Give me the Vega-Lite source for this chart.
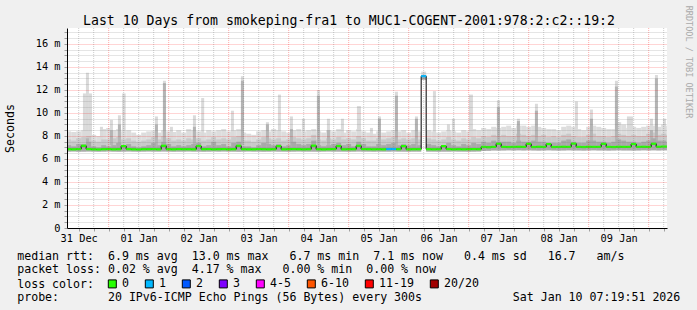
{
  "$schema": "https://vega.github.io/schema/vega-lite/v6.json",
  "width": 600,
  "height": 200,
  "autosize": {"type": "none"},
  "padding": {"left": 67, "top": 28, "right": 30, "bottom": 82},
  "background": "#f0f0f0",
  "config": {
    "view": {"fill": "#ffffff", "stroke": null},
    "font": "DejaVu Sans Mono",
    "axis": {"labelFont": "DejaVu Sans Mono", "titleFont": "DejaVu Sans Mono", "titleFontWeight": "normal", "titleColor": "#000000"}
  },
  "datasets": {
    "smoke": [
      {"h":7,"h2":9,"lo":6.65,"q":7.2,"m":7.7,"hi":8.4,"med":6.85,"loss":"0"},
      {"h":9,"h2":11,"lo":6.66,"q":7.1,"m":7.6,"hi":8.35,"med":6.84,"loss":"0"},
      {"h":11,"h2":13,"lo":6.64,"q":7.3,"m":7.8,"hi":8.4,"med":6.86,"loss":"0"},
      {"h":13,"h2":15,"lo":6.65,"q":7.3,"m":7.9,"hi":8.5,"med":7.15,"loss":"0"},
      {"h":15,"h2":17,"lo":6.66,"q":7.5,"m":8.0,"hi":8.45,"med":6.86,"loss":"0"},
      {"h":17,"h2":19,"lo":6.65,"q":7.1,"m":7.6,"hi":8.1,"med":6.84,"loss":"0"},
      {"h":19,"h2":21,"lo":6.64,"q":7.0,"m":7.5,"hi":8.0,"med":6.83,"loss":"0"},
      {"h":21,"h2":23,"lo":6.65,"q":7.2,"m":7.7,"hi":8.6,"med":6.85,"loss":"0"},
      {"h":23,"h2":25,"lo":6.66,"q":7.1,"m":7.7,"hi":8.7,"med":6.86,"loss":"0"},
      {"h":25,"h2":27,"lo":6.65,"q":7.2,"m":7.8,"hi":8.5,"med":6.84,"loss":"0"},
      {"h":27,"h2":29,"lo":6.64,"q":7.4,"m":7.9,"hi":8.6,"med":6.85,"loss":"0"},
      {"h":29,"h2":31,"lo":6.65,"q":7.2,"m":7.7,"hi":8.4,"med":7.12,"loss":"0"},
      {"h":31,"h2":33,"lo":6.66,"q":7.3,"m":7.8,"hi":8.5,"med":6.86,"loss":"0"},
      {"h":33,"h2":35,"lo":6.65,"q":7.1,"m":7.6,"hi":8.3,"med":6.84,"loss":"0"},
      {"h":35,"h2":37,"lo":6.64,"q":7.0,"m":7.5,"hi":8.1,"med":6.83,"loss":"0"},
      {"h":37,"h2":39,"lo":6.65,"q":7.1,"m":7.6,"hi":8.3,"med":6.85,"loss":"0"},
      {"h":39,"h2":41,"lo":6.66,"q":7.2,"m":7.7,"hi":8.4,"med":6.85,"loss":"0"},
      {"h":41,"h2":43,"lo":6.65,"q":7.4,"m":7.9,"hi":8.45,"med":6.86,"loss":"0"},
      {"h":43,"h2":45,"lo":6.65,"q":7.2,"m":7.7,"hi":8.3,"med":6.84,"loss":"0"},
      {"h":45,"h2":47,"lo":6.66,"q":7.5,"m":8.0,"hi":8.5,"med":7.15,"loss":"0"},
      {"h":47,"h2":49,"lo":6.65,"q":7.3,"m":7.8,"hi":8.4,"med":6.85,"loss":"0"},
      {"h":49,"h2":51,"lo":6.64,"q":7.1,"m":7.6,"hi":8.35,"med":6.84,"loss":"0"},
      {"h":51,"h2":53,"lo":6.65,"q":7.2,"m":7.7,"hi":8.5,"med":6.86,"loss":"0"},
      {"h":53,"h2":55,"lo":6.65,"q":7.1,"m":7.6,"hi":8.3,"med":6.85,"loss":"0"},
      {"h":55,"h2":57,"lo":6.66,"q":7.2,"m":7.8,"hi":8.6,"med":6.85,"loss":"0"},
      {"h":57,"h2":59,"lo":6.65,"q":7.3,"m":7.7,"hi":8.5,"med":6.84,"loss":"0"},
      {"h":59,"h2":61,"lo":6.65,"q":7.4,"m":7.8,"hi":8.4,"med":7.13,"loss":"0"},
      {"h":61,"h2":63,"lo":6.64,"q":7.1,"m":7.6,"hi":8.3,"med":6.85,"loss":"0"},
      {"h":63,"h2":65,"lo":6.65,"q":7.2,"m":7.7,"hi":8.5,"med":6.86,"loss":"0"},
      {"h":65,"h2":67,"lo":6.66,"q":7.5,"m":7.9,"hi":8.4,"med":6.84,"loss":"0"},
      {"h":67,"h2":69,"lo":6.65,"q":7.2,"m":7.7,"hi":8.5,"med":6.85,"loss":"0"},
      {"h":69,"h2":71,"lo":6.66,"q":7.3,"m":7.8,"hi":8.6,"med":6.86,"loss":"0"},
      {"h":71,"h2":73,"lo":6.65,"q":7.1,"m":7.7,"hi":8.4,"med":6.84,"loss":"0"},
      {"h":73,"h2":75,"lo":6.65,"q":7.4,"m":7.9,"hi":8.5,"med":6.85,"loss":"0"},
      {"h":75,"h2":77,"lo":6.64,"q":7.5,"m":8.0,"hi":8.6,"med":7.15,"loss":"0"},
      {"h":77,"h2":79,"lo":6.65,"q":7.1,"m":7.6,"hi":8.3,"med":6.85,"loss":"0"},
      {"h":79,"h2":81,"lo":6.66,"q":7.1,"m":7.6,"hi":8.2,"med":6.84,"loss":"0"},
      {"h":81,"h2":83,"lo":6.65,"q":7.0,"m":7.5,"hi":8.1,"med":6.84,"loss":"0"},
      {"h":83,"h2":85,"lo":6.65,"q":7.2,"m":7.7,"hi":8.4,"med":6.86,"loss":"0"},
      {"h":85,"h2":87,"lo":6.64,"q":7.4,"m":7.9,"hi":8.5,"med":6.85,"loss":"0"},
      {"h":87,"h2":89,"lo":6.65,"q":7.3,"m":7.8,"hi":8.4,"med":6.84,"loss":"0"},
      {"h":89,"h2":91,"lo":6.66,"q":7.2,"m":7.7,"hi":8.6,"med":6.85,"loss":"0"},
      {"h":91,"h2":93,"lo":6.65,"q":7.3,"m":7.8,"hi":8.5,"med":7.12,"loss":"0"},
      {"h":93,"h2":95,"lo":6.65,"q":7.1,"m":7.6,"hi":8.4,"med":6.84,"loss":"0"},
      {"h":95,"h2":97,"lo":6.64,"q":7.2,"m":7.7,"hi":8.3,"med":6.85,"loss":"0"},
      {"h":97,"h2":99,"lo":6.65,"q":7.5,"m":7.9,"hi":8.5,"med":6.86,"loss":"0"},
      {"h":99,"h2":101,"lo":6.66,"q":7.3,"m":7.8,"hi":8.6,"med":6.85,"loss":"0"},
      {"h":101,"h2":103,"lo":6.65,"q":7.2,"m":7.7,"hi":8.4,"med":6.84,"loss":"0"},
      {"h":103,"h2":105,"lo":6.65,"q":7.3,"m":7.8,"hi":8.5,"med":6.85,"loss":"0"},
      {"h":105,"h2":107,"lo":6.65,"q":7.6,"m":8.1,"hi":8.6,"med":7.16,"loss":"0"},
      {"h":107,"h2":109,"lo":6.64,"q":7.2,"m":7.7,"hi":8.4,"med":6.85,"loss":"0"},
      {"h":109,"h2":111,"lo":6.65,"q":7.1,"m":7.6,"hi":8.3,"med":6.84,"loss":"0"},
      {"h":111,"h2":113,"lo":6.66,"q":7.2,"m":7.8,"hi":8.5,"med":6.85,"loss":"0"},
      {"h":113,"h2":115,"lo":6.65,"q":7.3,"m":7.7,"hi":8.4,"med":6.86,"loss":"0"},
      {"h":115,"h2":117,"lo":6.65,"q":7.4,"m":7.9,"hi":8.6,"med":7.13,"loss":"0"},
      {"h":117,"h2":119,"lo":6.65,"q":7.2,"m":7.7,"hi":8.3,"med":6.84,"loss":"0"},
      {"h":119,"h2":121,"lo":6.64,"q":7.3,"m":7.8,"hi":8.5,"med":6.85,"loss":"0"},
      {"h":121,"h2":123,"lo":6.65,"q":7.1,"m":7.7,"hi":8.4,"med":6.85,"loss":"0"},
      {"h":123,"h2":125,"lo":6.66,"q":7.5,"m":8.0,"hi":8.6,"med":7.15,"loss":"0"},
      {"h":125,"h2":127,"lo":6.65,"q":7.3,"m":7.8,"hi":8.4,"med":6.86,"loss":"0"},
      {"h":127,"h2":129,"lo":6.65,"q":7.1,"m":7.6,"hi":8.3,"med":6.85,"loss":"0"},
      {"h":129,"h2":131,"lo":6.64,"q":7.1,"m":7.6,"hi":8.2,"med":6.84,"loss":"0"},
      {"h":131,"h2":133,"lo":6.65,"q":7.3,"m":7.8,"hi":8.4,"med":6.85,"loss":"0"},
      {"h":133,"h2":135,"lo":6.65,"q":7.2,"m":7.7,"hi":8.3,"med":6.84,"loss":"0"},
      {"h":135,"h2":137,"lo":6.65,"q":7.3,"m":7.8,"hi":8.4,"med":6.86,"loss":"1"},
      {"h":137,"h2":139,"lo":6.66,"q":7.4,"m":7.9,"hi":8.5,"med":6.87,"loss":"1"},
      {"h":139,"h2":141,"lo":6.65,"q":7.2,"m":7.7,"hi":8.4,"med":6.85,"loss":"0"},
      {"h":141,"h2":143,"lo":6.65,"q":7.3,"m":7.8,"hi":8.5,"med":7.12,"loss":"0"},
      {"h":143,"h2":145,"lo":6.64,"q":7.2,"m":7.7,"hi":8.3,"med":6.84,"loss":"0"},
      {"h":145,"h2":147,"lo":6.65,"q":7.3,"m":7.8,"hi":8.5,"med":6.85,"loss":"0"},
      {"h":147,"h2":149,"lo":6.65,"q":7.2,"m":7.7,"hi":8.4,"med":6.85,"loss":"0"},
      {"h":149,"h2":151,"lo":12.9,"q":13.2,"m":13.3,"hi":13.6,"med":13.2,"loss":"1"},
      {"h":151,"h2":153,"lo":6.65,"q":7.3,"m":7.8,"hi":8.5,"med":6.85,"loss":"0"},
      {"h":153,"h2":155,"lo":6.65,"q":7.2,"m":7.7,"hi":8.4,"med":6.84,"loss":"0"},
      {"h":155,"h2":157,"lo":6.64,"q":7.1,"m":7.6,"hi":8.3,"med":6.85,"loss":"0"},
      {"h":157,"h2":159,"lo":6.65,"q":7.2,"m":7.7,"hi":8.4,"med":7.12,"loss":"0"},
      {"h":159,"h2":161,"lo":6.65,"q":7.4,"m":7.9,"hi":8.5,"med":6.86,"loss":"0"},
      {"h":161,"h2":163,"lo":6.66,"q":7.2,"m":7.7,"hi":8.4,"med":6.84,"loss":"0"},
      {"h":163,"h2":165,"lo":6.65,"q":7.1,"m":7.6,"hi":8.3,"med":6.85,"loss":"0"},
      {"h":165,"h2":167,"lo":6.65,"q":7.3,"m":7.8,"hi":8.5,"med":6.84,"loss":"0"},
      {"h":167,"h2":169,"lo":6.64,"q":7.2,"m":7.7,"hi":8.4,"med":6.85,"loss":"0"},
      {"h":169,"h2":171,"lo":6.65,"q":7.4,"m":7.9,"hi":8.6,"med":6.86,"loss":"0"},
      {"h":171,"h2":173,"lo":6.66,"q":7.3,"m":7.8,"hi":8.5,"med":6.85,"loss":"0"},
      {"h":173,"h2":175,"lo":6.7,"q":7.5,"m":8.0,"hi":8.7,"med":7.05,"loss":"0"},
      {"h":175,"h2":177,"lo":6.72,"q":7.4,"m":7.9,"hi":8.6,"med":7.02,"loss":"0"},
      {"h":177,"h2":179,"lo":6.75,"q":7.6,"m":8.1,"hi":8.8,"med":7.05,"loss":"0"},
      {"h":179,"h2":181,"lo":6.74,"q":7.5,"m":8.0,"hi":8.7,"med":7.33,"loss":"0"},
      {"h":181,"h2":183,"lo":6.75,"q":7.5,"m":8.1,"hi":8.8,"med":7.05,"loss":"0"},
      {"h":183,"h2":185,"lo":6.76,"q":7.5,"m":8.0,"hi":8.9,"med":7.04,"loss":"0"},
      {"h":185,"h2":187,"lo":6.75,"q":7.4,"m":8.0,"hi":8.7,"med":7.05,"loss":"0"},
      {"h":187,"h2":189,"lo":6.76,"q":7.6,"m":8.2,"hi":8.9,"med":7.06,"loss":"0"},
      {"h":189,"h2":191,"lo":6.75,"q":7.5,"m":8.1,"hi":8.9,"med":7.05,"loss":"0"},
      {"h":191,"h2":193,"lo":6.76,"q":7.5,"m":8.0,"hi":8.8,"med":7.32,"loss":"0"},
      {"h":193,"h2":195,"lo":6.75,"q":7.6,"m":8.1,"hi":8.9,"med":7.04,"loss":"0"},
      {"h":195,"h2":197,"lo":6.74,"q":7.5,"m":8.0,"hi":8.8,"med":7.06,"loss":"0"},
      {"h":197,"h2":199,"lo":6.75,"q":7.5,"m":8.1,"hi":8.7,"med":7.05,"loss":"0"},
      {"h":199,"h2":201,"lo":6.76,"q":7.4,"m":7.9,"hi":8.6,"med":7.3,"loss":"0"},
      {"h":201,"h2":203,"lo":6.75,"q":7.4,"m":8.0,"hi":8.6,"med":7.04,"loss":"0"},
      {"h":203,"h2":205,"lo":6.74,"q":7.4,"m":7.9,"hi":8.5,"med":7.05,"loss":"0"},
      {"h":205,"h2":207,"lo":6.75,"q":7.6,"m":8.1,"hi":8.8,"med":7.06,"loss":"0"},
      {"h":207,"h2":209,"lo":6.76,"q":7.7,"m":8.2,"hi":8.9,"med":7.05,"loss":"0"},
      {"h":209,"h2":211,"lo":6.75,"q":7.5,"m":8.0,"hi":8.8,"med":7.34,"loss":"0"},
      {"h":211,"h2":213,"lo":6.75,"q":7.4,"m":7.9,"hi":8.6,"med":7.05,"loss":"0"},
      {"h":213,"h2":215,"lo":6.74,"q":7.4,"m":7.9,"hi":8.5,"med":7.04,"loss":"0"},
      {"h":215,"h2":217,"lo":6.75,"q":7.6,"m":8.1,"hi":8.8,"med":7.06,"loss":"0"},
      {"h":217,"h2":219,"lo":6.76,"q":7.6,"m":8.2,"hi":8.9,"med":7.05,"loss":"0"},
      {"h":219,"h2":221,"lo":6.75,"q":7.5,"m":8.0,"hi":8.8,"med":7.05,"loss":"0"},
      {"h":221,"h2":223,"lo":6.75,"q":7.5,"m":8.0,"hi":8.7,"med":7.32,"loss":"0"},
      {"h":223,"h2":225,"lo":6.74,"q":7.4,"m":7.9,"hi":8.6,"med":7.05,"loss":"0"},
      {"h":225,"h2":227,"lo":6.75,"q":7.5,"m":8.0,"hi":8.6,"med":7.04,"loss":"0"},
      {"h":227,"h2":229,"lo":6.76,"q":7.7,"m":8.2,"hi":9.2,"med":7.06,"loss":"0"},
      {"h":229,"h2":231,"lo":6.75,"q":7.6,"m":8.1,"hi":9.0,"med":7.05,"loss":"0"},
      {"h":231,"h2":233,"lo":6.75,"q":7.5,"m":8.0,"hi":8.7,"med":7.05,"loss":"0"},
      {"h":233,"h2":235,"lo":6.74,"q":7.5,"m":8.1,"hi":8.8,"med":7.3,"loss":"0"},
      {"h":235,"h2":237,"lo":6.75,"q":7.4,"m":8.0,"hi":8.7,"med":7.05,"loss":"0"},
      {"h":237,"h2":239,"lo":6.76,"q":7.5,"m":8.0,"hi":8.8,"med":7.06,"loss":"0"},
      {"h":239,"h2":241,"lo":6.75,"q":7.6,"m":8.2,"hi":8.9,"med":7.05,"loss":"0"},
      {"h":241,"h2":243,"lo":6.76,"q":7.8,"m":8.3,"hi":8.9,"med":7.33,"loss":"0"},
      {"h":243,"h2":245,"lo":6.75,"q":7.6,"m":8.1,"hi":8.8,"med":7.06,"loss":"0"},
      {"h":245,"h2":247,"lo":6.76,"q":7.6,"m":8.2,"hi":9.0,"med":7.08,"loss":"0"},
      {"h":247,"h2":249,"lo":6.75,"q":7.5,"m":8.1,"hi":8.9,"med":7.08,"loss":"0"}
    ],
    "spikes": [
      {"h":13.7,"h2":14.9,"lo":7.2,"v":11.7,"v2":7.2},
      {"h":14.9,"h2":16.1,"lo":7.2,"v":13.5,"v2":7.8},
      {"h":16.1,"h2":17.3,"lo":7.2,"v":11.7,"v2":7.2},
      {"h":20.5,"h2":21.7,"lo":7.2,"v":8.8,"v2":7.2},
      {"h":24.5,"h2":25.7,"lo":7.2,"v":9.4,"v2":8.5},
      {"h":27.7,"h2":28.9,"lo":7.2,"v":9.8,"v2":9.0},
      {"h":29.4,"h2":30.8,"lo":7.2,"v":11.7,"v2":7.2},
      {"h":42.5,"h2":43.7,"lo":7.2,"v":9.7,"v2":9.0},
      {"h":45.7,"h2":46.9,"lo":7.2,"v":12.8,"v2":12.6},
      {"h":48.5,"h2":49.7,"lo":7.2,"v":8.8,"v2":7.2},
      {"h":57.7,"h2":58.9,"lo":7.2,"v":9.8,"v2":8.8},
      {"h":61.0,"h2":62.2,"lo":7.2,"v":11.3,"v2":7.2},
      {"h":72.9,"h2":74.1,"lo":7.2,"v":10.2,"v2":7.2},
      {"h":76.9,"h2":78.1,"lo":7.2,"v":13.2,"v2":12.8},
      {"h":86.9,"h2":88.1,"lo":7.2,"v":9.2,"v2":9.0},
      {"h":91.7,"h2":92.9,"lo":7.2,"v":11.6,"v2":7.2},
      {"h":96.5,"h2":97.7,"lo":7.2,"v":9.7,"v2":8.6},
      {"h":101.3,"h2":102.5,"lo":7.2,"v":9.5,"v2":7.2},
      {"h":107.3,"h2":108.5,"lo":7.2,"v":12.0,"v2":11.5},
      {"h":111.3,"h2":112.5,"lo":7.2,"v":9.5,"v2":8.5},
      {"h":116.9,"h2":118.1,"lo":7.2,"v":9.5,"v2":7.2},
      {"h":123.3,"h2":124.9,"lo":7.2,"v":10.6,"v2":7.2},
      {"h":128.5,"h2":129.7,"lo":7.2,"v":8.7,"v2":7.2},
      {"h":131.7,"h2":132.9,"lo":7.2,"v":9.7,"v2":9.5},
      {"h":138.5,"h2":139.7,"lo":7.2,"v":11.85,"v2":11.5},
      {"h":146.5,"h2":147.7,"lo":7.2,"v":9.7,"v2":9.5},
      {"h":153.7,"h2":154.9,"lo":7.2,"v":11.9,"v2":7.2},
      {"h":159.3,"h2":160.5,"lo":7.2,"v":9.0,"v2":7.2},
      {"h":161.3,"h2":162.5,"lo":7.2,"v":9.5,"v2":7.2},
      {"h":168.1,"h2":169.7,"lo":7.2,"v":11.6,"v2":7.2},
      {"h":179.3,"h2":180.5,"lo":7.2,"v":11.1,"v2":10.5},
      {"h":187.3,"h2":188.5,"lo":7.2,"v":9.5,"v2":9.3},
      {"h":194.5,"h2":195.7,"lo":7.2,"v":10.8,"v2":10.2},
      {"h":210.5,"h2":211.7,"lo":7.2,"v":11.0,"v2":7.2},
      {"h":216.5,"h2":217.7,"lo":7.2,"v":10.3,"v2":9.5},
      {"h":226.5,"h2":227.7,"lo":7.2,"v":12.8,"v2":12.3},
      {"h":231.3,"h2":233.7,"lo":7.2,"v":9.7,"v2":7.2},
      {"h":240.5,"h2":241.7,"lo":7.2,"v":9.5,"v2":8.5},
      {"h":242.5,"h2":243.7,"lo":7.2,"v":13.3,"v2":13.0},
      {"h":245.7,"h2":246.9,"lo":7.2,"v":9.5,"v2":7.2}
    ],
    "vgrid": [
      {"t":12},{"t":18},{"t":24},{"t":30},{"t":36},{"t":42},{"t":48},{"t":54},{"t":60},{"t":66},
      {"t":72},{"t":78},{"t":84},{"t":90},{"t":96},{"t":102},{"t":108},{"t":114},{"t":120},{"t":126},
      {"t":132},{"t":138},{"t":144},{"t":150},{"t":156},{"t":162},{"t":168},{"t":174},{"t":180},{"t":186},
      {"t":192},{"t":198},{"t":204},{"t":210},{"t":216},{"t":222},{"t":228},{"t":234},{"t":240},{"t":246}
    ]
  },
  "layer": [
    {
      "data": {"name": "smoke"},
      "mark": {"type": "rect", "color": "#dddddd", "clip": true},
      "encoding": {
        "x": {
          "field": "h", "type": "quantitative",
          "scale": {"domain": [7.33, 247.33], "nice": false, "zero": false},
          "axis": {
            "orient": "bottom",
            "values": [12,18,24,30,36,42,48,54,60,66,72,78,84,90,96,102,108,114,120,126,132,138,144,150,156,162,168,174,180,186,192,198,204,210,216,222,228,234,240,246],
            "labelExpr": "datum.value % 24 === 12 ? ['31 Dec','01 Jan','02 Jan','03 Jan','04 Jan','05 Jan','06 Jan','07 Jan','08 Jan','09 Jan'][floor(datum.value / 24)] : ''",
            "labelFont": "DejaVu Sans Mono", "labelFontSize": 10.3, "labelColor": "#000000",
            "labelPadding": 2, "labelOverlap": false, "labelFlush": false,
            "ticks": true, "tickSize": 3, "tickColor": "#a0a0a0",
            "grid": false,
            "domainColor": "#000000", "domainWidth": 1,
            "zindex": 1,
            "title": "median\u00a0rtt:\u00a0\u00a06.9\u00a0ms\u00a0avg\u00a0\u00a013.0\u00a0ms\u00a0max\u00a0\u00a0\u00a06.7\u00a0ms\u00a0min\u00a0\u00a07.1\u00a0ms\u00a0now\u00a0\u00a0\u00a00.4\u00a0ms\u00a0sd\u00a0\u00a0\u00a016.7\u00a0\u00a0\u00a0am/s",
            "titleFontSize": 11.6, "titleAlign": "left", "titleBaseline": "alphabetic", "titleAnchor": "start",
            "titleX": -50.3, "titleY": 31, "titleLimit": 800
          }
        },
        "x2": {"field": "h2"},
        "y": {
          "field": "lo", "type": "quantitative",
          "scale": {"domain": [0, 17.39], "nice": false, "zero": false},
          "axis": {
            "values": [0,0.5,1,1.5,2,2.5,3,3.5,4,4.5,5,5.5,6,6.5,7,7.5,8,8.5,9,9.5,10,10.5,11,11.5,12,12.5,13,13.5,14,14.5,15,15.5,16,16.5,17],
            "labelExpr": "datum.value % 2 === 0 ? (datum.value === 0 ? '0\u00a0' : datum.value + ' m') : ''",
            "labelFont": "DejaVu Sans Mono", "labelFontSize": 10.3, "labelColor": "#000000",
            "labelPadding": 4, "labelOverlap": false, "labelFlush": false, "labelBaseline": "middle",
            "ticks": true, "tickSize": 3, "tickColor": "#a0a0a0",
            "grid": true, "gridDash": [1, 1],
            "gridColor": {"condition": {"test": "datum.value % 2 === 0", "value": "#ff0000"}, "value": "#808080"},
            "gridOpacity": {"condition": {"test": "datum.value % 2 === 0", "value": 0.33}, "value": 0.4},
            "domainColor": "#000000", "domainWidth": 1,
            "zindex": 1,
            "title": "Seconds",
            "titleFontSize": 11.6,
            "titleAngle": -90, "titleAlign": "center", "titleBaseline": "middle",
            "titleX": -57, "titleY": 100
          }
        },
        "y2": {"field": "hi"}
      }
    },
    {
      "data": {"name": "spikes"},
      "mark": {"type": "rect", "color": "#dadada", "clip": true},
      "encoding": {
        "x": {
          "field": "h", "type": "quantitative", "scale": {"domain": [7.33, 247.33], "nice": false, "zero": false},
          "axis": {
            "orient": "bottom", "labels": false, "ticks": false, "domain": false, "grid": false,
            "title": "packet\u00a0loss:\u00a00.02\u00a0%\u00a0avg\u00a0\u00a04.17\u00a0%\u00a0max\u00a0\u00a0\u00a00.00\u00a0%\u00a0min\u00a0\u00a00.00\u00a0%\u00a0now",
            "titleFontSize": 11.6, "titleAlign": "left", "titleBaseline": "alphabetic", "titleAnchor": "start",
            "titleX": -50.3, "titleY": 44.67, "titleLimit": 800
          }
        },
        "x2": {"field": "h2"},
        "y": {"field": "lo", "type": "quantitative", "scale": {"domain": [0, 17.39], "nice": false, "zero": false}, "axis": null},
        "y2": {"field": "v"}
      }
    },
    {
      "data": {"name": "smoke"},
      "mark": {"type": "rect", "color": "#c9c9c9", "clip": true},
      "encoding": {
        "x": {
          "field": "h", "type": "quantitative", "scale": {"domain": [7.33, 247.33], "nice": false, "zero": false},
          "axis": {
            "orient": "bottom", "labels": false, "ticks": false, "domain": false, "grid": false,
            "title": "loss\u00a0color:",
            "titleFontSize": 11.6, "titleAlign": "left", "titleBaseline": "alphabetic", "titleAnchor": "start",
            "titleX": -50.3, "titleY": 59, "titleLimit": 800
          }
        },
        "x2": {"field": "h2"},
        "y": {"field": "lo", "type": "quantitative", "scale": {"domain": [0, 17.39], "nice": false, "zero": false}, "axis": null},
        "y2": {"field": "m"}
      }
    },
    {
      "data": {"name": "spikes"},
      "mark": {"type": "rect", "color": "#b4b4b4", "clip": true},
      "encoding": {
        "x": {
          "field": "h", "type": "quantitative", "scale": {"domain": [7.33, 247.33], "nice": false, "zero": false},
          "axis": {
            "orient": "bottom", "labels": false, "ticks": false, "domain": false, "grid": false,
            "title": "probe:\u00a0\u00a0\u00a0\u00a0\u00a0\u00a0\u00a020\u00a0IPv6-ICMP\u00a0Echo\u00a0Pings\u00a0(56\u00a0Bytes)\u00a0every\u00a0300s\u00a0\u00a0\u00a0\u00a0\u00a0\u00a0\u00a0\u00a0\u00a0\u00a0\u00a0\u00a0\u00a0Sat\u00a0Jan\u00a010\u00a007:19:51\u00a02026",
            "titleFontSize": 11.6, "titleAlign": "left", "titleBaseline": "alphabetic", "titleAnchor": "start",
            "titleX": -50.3, "titleY": 72, "titleLimit": 800
          }
        },
        "x2": {"field": "h2"},
        "y": {"field": "lo", "type": "quantitative", "scale": {"domain": [0, 17.39], "nice": false, "zero": false}, "axis": null},
        "y2": {"field": "v2"}
      }
    },
    {
      "data": {"name": "smoke"},
      "mark": {"type": "rect", "color": "#a9a9a9", "clip": true},
      "encoding": {
        "x": {
          "field": "h", "type": "quantitative", "scale": {"domain": [7.33, 247.33], "nice": false, "zero": false},
          "axis": {
            "orient": "top", "labels": false, "ticks": false, "domain": false, "grid": false,
            "title": "Last 10 Days from smokeping-fra1 to MUC1-COGENT-2001:978:2:c2::19:2",
            "titleFontSize": 13.2, "titleAlign": "center", "titleBaseline": "alphabetic", "titleAnchor": "start",
            "titleX": 281.5, "titleY": -4, "titleLimit": 800
          }
        },
        "x2": {"field": "h2"},
        "y": {"field": "lo", "type": "quantitative", "scale": {"domain": [0, 17.39], "nice": false, "zero": false}, "axis": null},
        "y2": {"field": "q"}
      }
    },
    {
      "data": {"name": "smoke"},
      "mark": {"type": "line", "interpolate": "step-after", "color": "#000000", "strokeWidth": 1, "clip": true},
      "encoding": {
        "x": {"field": "h", "type": "quantitative", "scale": {"domain": [7.33, 247.33], "nice": false, "zero": false}, "axis": null},
        "y": {
          "field": "med", "type": "quantitative",
          "scale": {"domain": [0, 17.39], "nice": false, "zero": false},
          "axis": {
            "orient": "right", "labels": false, "ticks": false, "domain": false, "grid": false,
            "title": "RRDTOOL / TOBI OETIKER",
            "titleFontSize": 8.5, "titleColor": "#aaaaaa",
            "titleAngle": 90, "titleAlign": "center", "titleBaseline": "middle",
            "titleX": 21.5, "titleY": 33.5, "titleLimit": 300
          }
        }
      }
    },
    {
      "data": {"name": "smoke"},
      "mark": {"type": "rect", "height": 2.2, "clip": true},
      "encoding": {
        "x": {"field": "h", "type": "quantitative", "scale": {"domain": [7.33, 247.33], "nice": false, "zero": false}, "axis": null},
        "x2": {"field": "h2"},
        "y": {"field": "med", "type": "quantitative", "scale": {"domain": [0, 17.39], "nice": false, "zero": false}, "axis": null},
        "color": {
          "field": "loss", "type": "nominal",
          "scale": {
            "domain": ["0", "1", "2", "3", "4-5", "6-10", "11-19", "20/20"],
            "range": ["#26ff00", "#00b8ff", "#0059ff", "#7e00ff", "#ff00ff", "#ff5500", "#ff0000", "#a10000"]
          },
          "legend": {
            "orient": "none", "legendX": 39.5, "legendY": 250, "direction": "horizontal",
            "title": null, "padding": 0,
            "symbolType": "square", "symbolSize": 64, "symbolStrokeColor": "#000000", "symbolStrokeWidth": 1, "symbolOpacity": 1,
            "labelFont": "DejaVu Sans Mono", "labelFontSize": 11.6, "labelColor": "#000000",
            "labelOffset": 4, "columnPadding": 13, "labelLimit": 200
          }
        }
      }
    },
    {
      "data": {"name": "vgrid"},
      "transform": [{"filter": "datum.t % 24 !== 0"}],
      "mark": {"type": "rule", "color": "#808080", "opacity": 0.4, "strokeDash": [1, 1], "strokeWidth": 1, "clip": true},
      "encoding": {
        "x": {"field": "t", "type": "quantitative", "scale": {"domain": [7.33, 247.33], "nice": false, "zero": false}, "axis": null}
      }
    },
    {
      "data": {"name": "vgrid"},
      "transform": [{"filter": "datum.t % 24 === 0"}],
      "mark": {"type": "rule", "color": "#ff0000", "opacity": 0.33, "strokeDash": [1, 1], "strokeWidth": 1, "clip": true},
      "encoding": {
        "x": {"field": "t", "type": "quantitative", "scale": {"domain": [7.33, 247.33], "nice": false, "zero": false}, "axis": null}
      }
    }
  ],
  "resolve": {"axis": {"x": "independent", "y": "independent"}}
}
